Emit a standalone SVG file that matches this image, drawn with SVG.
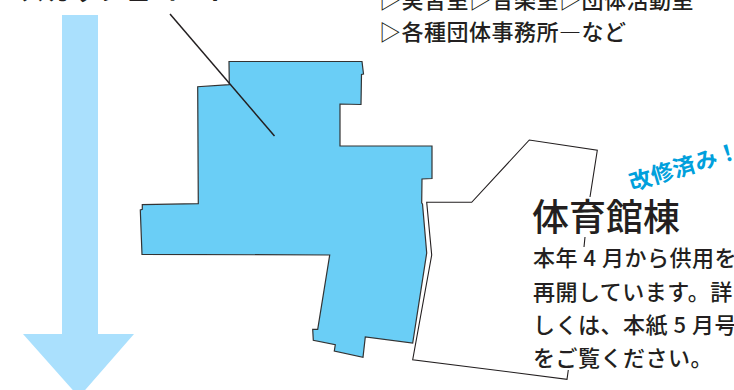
<svg xmlns="http://www.w3.org/2000/svg" width="734" height="390" viewBox="0 0 734 390">
<style>
text{font-family:"Noto Sans CJK JP","Noto Sans",sans-serif;fill:#231f20}
.b{font-size:22px;letter-spacing:.5px;font-weight:500}
.o{fill:none;stroke:#231f20;stroke-width:1.1}
</style>
<rect width="734" height="390" fill="#fff"/>
<path id="arrow" d="M62 15H98V334H134L79 397L23 334H62Z" fill="#aae0fd"/>
<g id="main-building"><polygon points="229,61.5 362,61.5 363.5,74 361.5,74.5 361,104.5 340,104 340,146 432,146 432,178.5 422,179 421.7,203 422.5,204 426.7,253 412.7,343 365.3,337 363,357.3 334.3,351 335.3,344.7 313.3,340.3 312.7,329.3 317.7,329.3 329.7,255 142,254.3 140.3,210 142.3,209.3 142.3,204.7 198.3,203.7 197.7,86.7 229.3,84.7" fill="#6acef6" stroke="#333" stroke-width="1.2"/></g>
<g id="gym"><path class="o" d="M590 197L597.300 150.300L529.300 140L471.700 202.300H426.700L431.700 255L412.700 359.700L567 379.300L568.300 370M585 237L584 247"/></g>
<g id="connectors"><line x1="170" y1="14" x2="274.500" y2="136" stroke="#231f20" stroke-width="1.500"/></g>
<g id="labels">
<text x="20" y="0" font-size="25" font-weight="700" letter-spacing="1.500">スカッシュコート</text>
<text class="b" x="379" y="8">▷実習室▷音楽室▷団体活動室</text>
<text class="b" x="379" y="40" style="font-feature-settings:'fwid'">▷各種団体事務所—など</text>
<text x="632" y="191" transform="rotate(-17 632 191)" font-size="22.5" font-weight="700" letter-spacing=".3" style="fill:#00a0dc">改修済み！</text>
<text x="532" y="231" font-size="37" font-weight="500">体育館棟</text>
<text class="b" x="533" y="266">本年 4 月から供用を</text>
<text class="b" x="533" y="300">再開しています。詳</text>
<text class="b" x="533" y="333">しくは、本紙 5 月号</text>
<text class="b" x="533" y="366">をご覧ください。</text>
</g>
</svg>
